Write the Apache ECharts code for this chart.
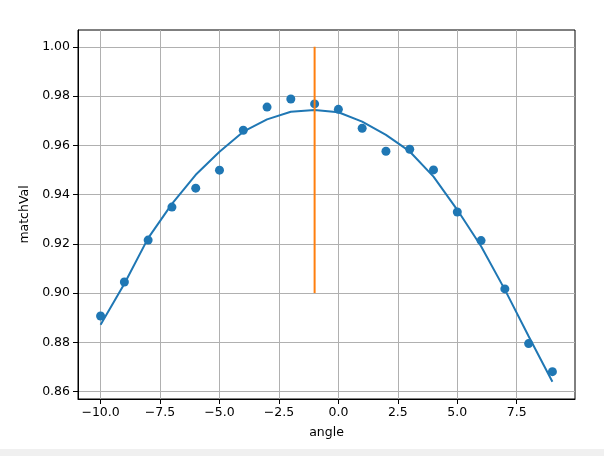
<!DOCTYPE html>
<html>
<head>
<meta charset="utf-8">
<script src="https://cdn.jsdelivr.net/npm/echarts@6/dist/echarts.min.js"></script>
<style>
html,body{margin:0;padding:0;background:#fff;}
#c{width:604px;height:449px;}
#strip{width:604px;height:7px;background:#f0f0f0;}
</style>
</head>
<body>
<div id="c"></div>
<div id="strip"></div>
<script>
const angles = [-10,-9,-8,-7,-6,-5,-4,-3,-2,-1,0,1,2,3,4,5,6,7,8,9];
const matchVals = [0.8907,0.9045,0.9215,0.9349,0.9426,0.9499,0.9661,0.9755,0.9788,0.9768,0.9746,0.9669,0.9576,0.9584,0.9500,0.9329,0.9213,0.9017,0.8795,0.8681];
const fitVals = [0.8871,0.9038,0.9223,0.9362,0.9480,0.9574,0.9655,0.9705,0.9736,0.9743,0.9734,0.9696,0.9642,0.9575,0.9473,0.9338,0.9190,0.9014,0.8825,0.8640];
const bestAngle = -1;
const bestLineY = [0.90, 1.00];
const xTicks = [-10,-7.5,-5,-2.5,0,2.5,5,7.5];
const yTicks = [0.86,0.88,0.90,0.92,0.94,0.96,0.98,1.00];

const chart = echarts.init(document.getElementById('c'), null, {renderer:'canvas'});
const font = 'DejaVu Sans';
const scatterData = angles.map((a,i)=>[a,matchVals[i]]);
const fitData = angles.map((a,i)=>[a,fitVals[i]]);
const vData = bestLineY.map(v=>[bestAngle,v]);

chart.setOption({
  animation:false,
  backgroundColor:'#fff',
  grid:{left:78,top:30,width:497,height:369,show:true,borderColor:'#000',borderWidth:1,backgroundColor:'transparent',containLabel:false},
  xAxis:{
    type:'value',min:-10.95,max:9.95,
    name:'angle',nameLocation:'middle',nameGap:27,
    nameTextStyle:{fontFamily:font,fontSize:12.5,color:'#000'},
    axisLine:{show:true,onZero:false,lineStyle:{color:'#000',width:1}},
    axisTick:{show:true,length:5,inside:false,lineStyle:{color:'#000'},customValues:xTicks},
    axisLabel:{show:true,margin:7,fontFamily:font,fontSize:12.5,color:'#000',customValues:xTicks,
      formatter:v=>v.toFixed(1).replace('-','\u2212')},
    splitLine:{show:true,lineStyle:{color:'#b0b0b0',width:1}}
  },
  yAxis:{
    type:'value',min:0.8570,max:1.0068,
    name:'matchVal',nameLocation:'middle',nameGap:43,nameRotate:90,
    nameTextStyle:{fontFamily:font,fontSize:12.5,color:'#000'},
    axisLine:{show:true,onZero:false,lineStyle:{color:'#000',width:1}},
    axisTick:{show:true,length:5,inside:false,lineStyle:{color:'#000'},customValues:yTicks},
    axisLabel:{show:true,margin:8,fontFamily:font,fontSize:12.5,color:'#000',customValues:yTicks,
      formatter:v=>v.toFixed(2)},
    splitLine:{show:true,lineStyle:{color:'#b0b0b0',width:1}}
  },
  series:[
    {type:'scatter',data:scatterData,symbolSize:9,itemStyle:{color:'#1f77b4',opacity:1},z:2},
    {type:'line',data:fitData,showSymbol:false,lineStyle:{color:'#1f77b4',width:2},z:3},
    {type:'line',data:vData,showSymbol:false,lineStyle:{color:'#ff7f0e',width:2},z:4}
  ]
});
</script>
</body>
</html>
